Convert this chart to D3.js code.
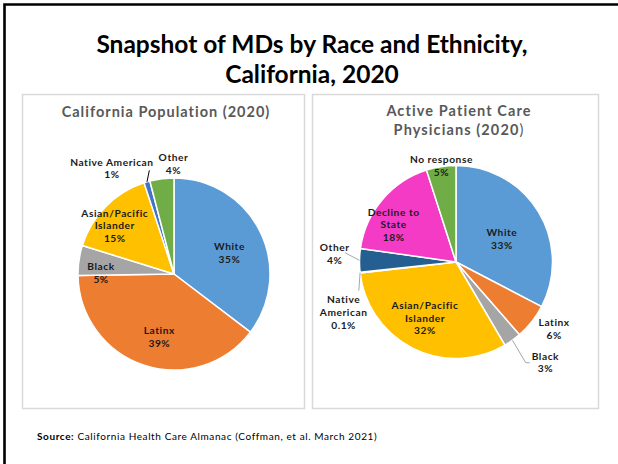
<!DOCTYPE html>
<html>
<head>
<meta charset="utf-8">
<script src="https://cdn.jsdelivr.net/npm/d3@7"></script>
<style>
  body { margin: 0; background: #fff; }
  svg { display: block; }
</style>
</head>
<body>
<script>
// DATA
var popLabels = ["White", "Latinx", "Black", "Asian/Pacific Islander", "Native American", "Other"];
var popValues = [35, 39, 5, 15, 1, 4];
var popColors = ["#5B9BD5", "#ED7D31", "#A5A5A5", "#FFC000", "#4472C4", "#70AD47"];

var mdLabels = ["White", "Latinx", "Black", "Asian/Pacific Islander", "Native American", "Other", "Decline to State", "No response"];
var mdValues = [33, 6, 3, 32, 0.1, 4, 18, 5];
var mdColors = ["#5B9BD5", "#ED7D31", "#A5A5A5", "#FFC000", "#9E480E", "#255E91", "#F43BC6", "#70AD47"];

// how each label is broken into lines
var popText = [["White", "35%"], ["Latinx", "39%"], ["Black", "5%"], ["Asian/Pacific", "Islander", "15%"], ["Native American", "1%"], ["Other", "4%"]];
var mdText = [["White", "33%"], ["Latinx", "6%"], ["Black", "3%"], ["Asian/Pacific", "Islander", "32%"], ["Native", "American", "0.1%"], ["Other", "4%"], ["Decline to", "State", "18%"], ["No response", "5%"]];

var width = 618, height = 464;
var labelFont = "Lato, 'Noto Sans', sans-serif";

var svg = d3.select("body").append("svg")
   .attr("width", width).attr("height", height)
   .attr("viewBox", "0,0," + width + "," + height);

svg.append("rect").attr("width", width).attr("height", height).attr("fill", "#fff");

// slide frame (top and left only)
svg.append("path")
   .attr("d", "M4.5," + height + "V4.5H" + width)
   .attr("fill", "none").attr("stroke", "#000").attr("stroke-width", 2.6);

// main title
var title = svg.append("text")
   .attr("text-anchor", "middle")
   .attr("font-family", labelFont)
   .attr("font-weight", "700")
   .attr("font-size", "24.5px")
   .attr("fill", "#000");
title.append("tspan").attr("x", 312).attr("y", 53).text("Snapshot of MDs by Race and Ethnicity,");
title.append("tspan").attr("x", 312).attr("y", 83).text("California, 2020");

// panels
[{x: 22.5, w: 282}, {x: 312.5, w: 286}].forEach(function(p){
   svg.append("rect")
      .attr("x", p.x).attr("y", 94.5)
      .attr("width", p.w).attr("height", 314)
      .attr("fill", "#fff")
      .attr("stroke", "#d9d9d9").attr("stroke-width", 1.5);
});

// panel titles
svg.append("text")
   .attr("x", 166).attr("y", 117)
   .attr("text-anchor", "middle")
   .attr("font-family", labelFont).attr("font-weight", "700")
   .attr("font-size", "14.5px").attr("fill", "#595959")
   .attr("letter-spacing", "1px")
   .text("California Population (2020)");

var t2 = svg.append("text")
   .attr("text-anchor", "middle")
   .attr("font-family", labelFont).attr("font-weight", "700")
   .attr("font-size", "14.5px").attr("fill", "#595959")
   .attr("letter-spacing", "1.1px");
t2.append("tspan").attr("x", 459).attr("y", 116).text("Active Patient Care");
var l2 = t2.append("tspan").attr("x", 459).attr("y", 135);
l2.append("tspan").text("Physicians (2020");
l2.append("tspan").attr("font-weight", "400").text(")");

var rad = Math.PI / 180;

function polar(cx, cy, r, angle){
   return [cx + r * Math.sin(angle), cy - r * Math.cos(angle)];
}

function drawPie(cfg){
   var pie = d3.pie().sort(null).value(function(d){ return d; });
   var arcs = pie(cfg.values);
   var arc = d3.arc().innerRadius(0).outerRadius(cfg.r);
   var g = svg.append("g").attr("transform", "translate(" + cfg.cx + "," + cfg.cy + ")");

   g.selectAll("path.slice").data(arcs).enter().append("path")
      .attr("class", "slice")
      .attr("d", arc)
      .attr("fill", function(d, i){ return cfg.colors[i]; })
      .attr("stroke", "#fff")
      .attr("stroke-width", 1.5)
      .attr("stroke-linejoin", "round");

   // leader lines
   cfg.leaders.forEach(function(ld){
      var a = arcs[ld.i];
      var mid = (a.startAngle + a.endAngle) / 2;
      var p0 = polar(0, 0, cfg.r, mid);
      var p1 = polar(0, 0, cfg.r * ld.k, mid + ld.da * rad);
      var pts = [p0, p1];
      if(ld.tail){ pts.push([p1[0] + ld.tail, p1[1]]); }
      g.append("path")
         .attr("d", d3.line()(pts))
         .attr("fill", "none")
         .attr("stroke", ld.color)
         .attr("stroke-width", 1);
   });

   // labels
   arcs.forEach(function(a, i){
      var pos = cfg.labelPos[i];
      var mid = (a.startAngle + a.endAngle) / 2 + pos.da * rad;
      var p = polar(0, 0, cfg.r * pos.k, mid);
      var lines = cfg.text[i];
      var lh = 12.6;
      var y0 = p[1] - (lines.length - 1) * lh / 2;
      var t = g.append("text")
         .attr("text-anchor", "middle")
         .attr("dominant-baseline", "central")
         .attr("font-family", labelFont)
         .attr("font-weight", "700")
         .attr("font-size", "10.2px")
         .attr("letter-spacing", "0.55px")
         .attr("fill", "#1a1a1a");
      lines.forEach(function(s, j){
         t.append("tspan").attr("x", p[0]).attr("y", y0 + j * lh).text(s);
      });
   });
}

drawPie({
   cx: 174, cy: 274, r: 96,
   values: popValues, colors: popColors, text: popText,
   labelPos: [
      {da: 5, k: 0.62}, {da: -5, k: 0.67}, {da: -7, k: 0.76},
      {da: -5, k: 0.8}, {da: -14, k: 1.28}, {da: 7, k: 1.15}
   ],
   leaders: [{i: 4, da: 3, k: 1.11, color: "#000"}]
});

drawPie({
   cx: 456, cy: 262, r: 96.5,
   values: mdValues, colors: mdColors, text: mdText,
   labelPos: [
      {da: 4, k: 0.535}, {da: -4, k: 1.23}, {da: -6, k: 1.39}, {da: 2.6, k: 0.66},
      {da: -17.7, k: 1.275}, {da: 3, k: 1.26}, {da: -9, k: 0.755}, {da: 0.3, k: 1.01}
   ],
   leaders: [
      {i: 2, da: 1.1, k: 1.27, tail: 4, color: "#a6a6a6"},
      {i: 4, da: -10.1, k: 1.05, color: "#a6a6a6"},
      {i: 5, da: 3.8, k: 1.155, color: "#a6a6a6"}
   ]
});

// source note
var src = svg.append("text")
   .attr("x", 37).attr("y", 439.5)
   .attr("font-family", labelFont)
   .attr("font-size", "10px")
   .attr("letter-spacing", "0.6px")
   .attr("fill", "#000");
src.append("tspan").attr("font-weight", "700").text("Source:");
src.append("tspan").text(" California Health Care Almanac (Coffman, et al. March 2021)");
</script>
</body>
</html>
